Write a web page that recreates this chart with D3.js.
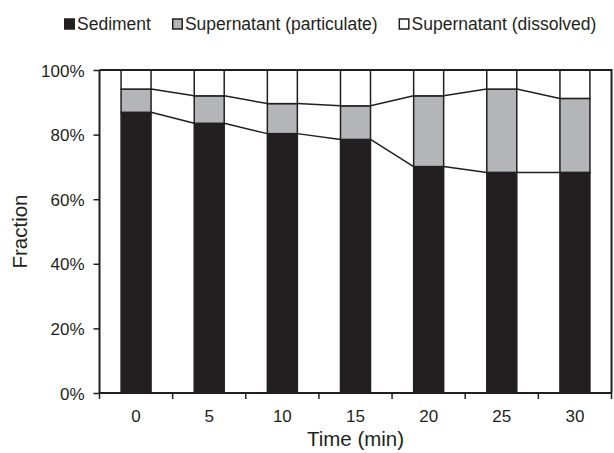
<!DOCTYPE html>
<html>
<head>
<meta charset="utf-8">
<script src="https://cdn.jsdelivr.net/npm/d3@7"></script>
<style>
  body { margin: 0; background: #fff; }
  svg text { font-family: "Liberation Sans", Arial, sans-serif; fill: #231f20; }
</style>
</head>
<body>
<script>
// Values (fraction of total)
var times = ["0", "5", "10", "15", "20", "25", "30"];
var sediment    = [0.869, 0.835, 0.803, 0.785, 0.701, 0.683, 0.683];
var particulate = [0.072, 0.085, 0.093, 0.104, 0.219, 0.258, 0.229];
var dissolved   = [0.059, 0.080, 0.104, 0.111, 0.080, 0.059, 0.088];
var yTicks = [0, 0.2, 0.4, 0.6, 0.8, 1.0];
var seriesNames = ["Sediment", "Supernatant (particulate)", "Supernatant (dissolved)"];
var seriesColors = ["#231f20", "#b4b5b8", "#ffffff"];

var ink = "#231f20";
var W = 614, H = 453;
var margin = {top: 70, right: 2.5, bottom: 60, left: 99.5};
var width = W - margin.left - margin.right,
    height = H - margin.top - margin.bottom;

var svg = d3.select("body").append("svg")
    .attr("width", W)
    .attr("height", H);

var g = svg.append("g")
    .attr("transform", "translate(" + margin.left + "," + margin.top + ")");

var x = d3.scaleBand().domain(times).range([0, width]).paddingInner(0.59).paddingOuter(0.295);
var xb = d3.scaleBand().domain(times).range([0, width]); // category boundaries for ticks
var y = d3.scaleLinear().domain([0, 1]).range([height, 0]);

// build table for stack
var rows = times.map(function(t, i) {
    return {t: t, s0: sediment[i], s1: particulate[i], s2: dissolved[i]};
});
var stack = d3.stack().keys(["s0", "s1", "s2"])(rows);

// bars
stack.forEach(function(layer, k) {
    g.selectAll(".bar" + k)
        .data(layer)
        .enter().append("rect")
        .attr("x", function(d) { return x(d.data.t); })
        .attr("y", function(d) { return y(d[1]); })
        .attr("width", x.bandwidth())
        .attr("height", function(d) { return y(d[0]) - y(d[1]); })
        .style("fill", seriesColors[k])
        .style("stroke", ink)
        .style("stroke-width", 1.5);
});

// series lines connecting bar tops (Excel style)
[0, 1].forEach(function(k) {
    var layer = stack[k];
    for (var i = 0; i < layer.length - 1; i++) {
        g.append("line")
            .attr("x1", x(layer[i].data.t) + x.bandwidth())
            .attr("y1", y(layer[i][1]))
            .attr("x2", x(layer[i + 1].data.t))
            .attr("y2", y(layer[i + 1][1]))
            .style("stroke", ink)
            .style("stroke-width", 1.5);
    }
});

// plot box top + right
g.append("path")
    .attr("d", "M0,0H" + width + "V" + height)
    .style("fill", "none")
    .style("stroke", ink)
    .style("stroke-width", 2);

// Y axis
var yAxis = g.append("g")
    .call(d3.axisLeft(y).tickValues(yTicks).tickFormat(d3.format(".0%")).tickSize(6).tickPadding(9));
yAxis.select(".domain").attr("d", "M0,0V" + height).style("stroke", ink).style("stroke-width", 2);
yAxis.selectAll(".tick line").style("stroke", ink).style("stroke-width", 1.5);
yAxis.selectAll(".tick text").style("font-size", "17px").attr("dy", "0.36em");

// X axis: labels at centers, ticks at boundaries
var xAxis = g.append("g")
    .attr("transform", "translate(0," + height + ")")
    .call(d3.axisBottom(x).tickSize(0).tickPadding(17));
xAxis.select(".domain").remove();
xAxis.selectAll(".tick text").style("font-size", "17px");
g.append("line")
    .attr("x1", 0).attr("x2", width)
    .attr("y1", height).attr("y2", height)
    .style("stroke", ink).style("stroke-width", 2);
var bounds = times.map(function(t) { return xb(t); }).concat([width]);
g.selectAll(".xtick")
    .data(bounds)
    .enter().append("line")
    .attr("x1", function(d) { return d; })
    .attr("x2", function(d) { return d; })
    .attr("y1", height)
    .attr("y2", height + 6)
    .style("stroke", ink).style("stroke-width", 1.5);

// axis titles
svg.append("text")
    .attr("x", margin.left + width / 2)
    .attr("y", 446)
    .style("text-anchor", "middle")
    .style("font-size", "20.5px")
    .text("Time (min)");

svg.append("text")
    .attr("transform", "translate(27," + (margin.top + height / 2) + ") rotate(-90)")
    .style("text-anchor", "middle")
    .style("font-size", "20.5px")
    .text("Fraction");

// legend
var lx = 64;
seriesNames.forEach(function(name, k) {
    svg.append("rect")
        .attr("x", lx + 0.75).attr("y", 19)
        .attr("width", 9.5).attr("height", 10)
        .style("fill", seriesColors[k])
        .style("stroke", ink)
        .style("stroke-width", 1.5);
    var t = svg.append("text")
        .attr("x", lx + 13)
        .attr("y", 30)
        .style("font-size", "17.5px")
        .text(name);
    lx = lx + 13 + t.node().getComputedTextLength() + 21;
});
</script>
</body>
</html>
